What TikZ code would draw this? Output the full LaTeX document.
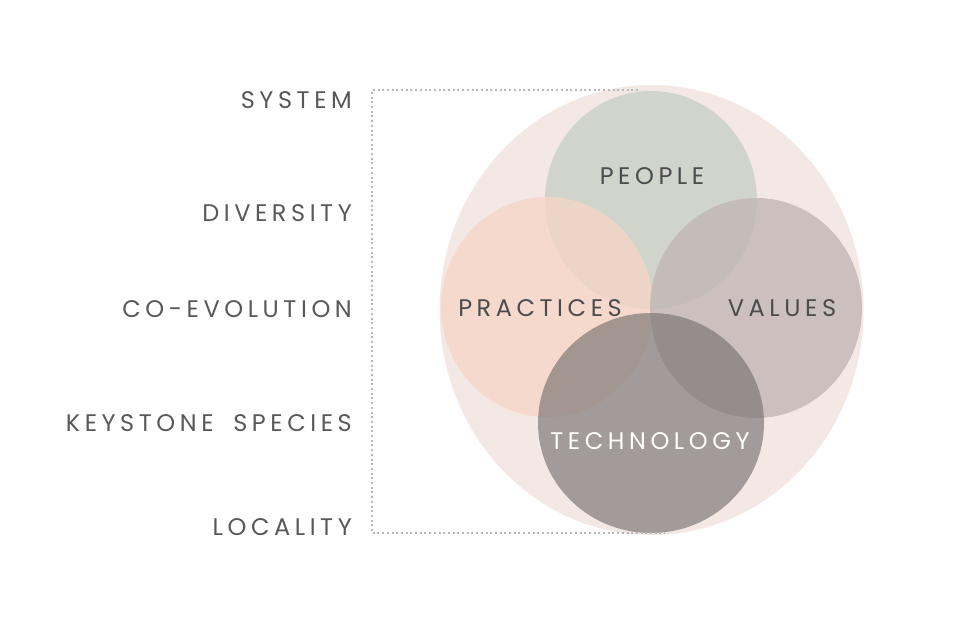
\documentclass[tikz,border=0pt]{standalone}
\usepackage{fontspec}
\setmainfont{Poppins}[LetterSpace=19, WordSpace=1.8]
\usepackage{tikz}
\usetikzlibrary{calc}
\definecolor{ringpink}{HTML}{F4E8E5}
\definecolor{peoplegreen}{HTML}{D1D4CB}
\definecolor{practicepink}{HTML}{F7D4C5}
\definecolor{valuegray}{HTML}{C1B7B4}
\definecolor{techgray}{HTML}{787371}
\definecolor{labelgray}{HTML}{585858}

\begin{document}
\begin{tikzpicture}[ x=1pt, y=-1pt,
      every node/.style={color=labelgray, inner sep=0pt},
      level/.style={anchor=east, font=\fontsize{24}{27}\selectfont},
      field/.style={font=\fontsize{24}{27}\selectfont, color=black!70},
      bracket line/.style={dash pattern=on 2pt off 2.7pt, line width=2pt, color=black!28}
      ]
      \useasboundingbox (0,0) rectangle (960,640);

      % system ring
      \fill[ringpink] (651.5,310) ellipse [x radius=212, y radius=225];

      % the four circles
      \fill[peoplegreen] (651,200) ellipse [x radius=106, y radius=109];
      \fill[practicepink, fill opacity=0.73] (547,307) ellipse [x radius=106, y radius=110];
      \fill[valuegray, fill opacity=0.8] (756,308) ellipse [x radius=106, y radius=110];
      \fill[techgray, fill opacity=0.65] (651,423) ellipse [x radius=113, y radius=110];

      \node[field] (People) at (652,176) {PEOPLE};
      \node[field] (Practices) at (540,308) {PRACTICES};
      \node[field] (Values) at (782,308) {VALUES};
      \node[field, color=white] (Technology) at (650,441) {TECHNOLOGY};

      % levels
      \node[level] (System) at (352,100) {SYSTEM};
      \node[level] (Diversity) at (352,213) {DIVERSITY};
      \node[level] (CoEvolution) at (352,309) {CO-EVOLUTION};
      \node[level] (Keystone) at (352,423) {KEYSTONE SPECIES};
      \node[level] (Locality) at (352,527) {LOCALITY};

      % bracket
      \coordinate (TopEnd) at (638,90);
      \coordinate (BotEnd) at (665,533);
      \coordinate (Corner) at (372,90);
      \draw[bracket line] (TopEnd) -- (Corner) |- (BotEnd);
    \end{tikzpicture}
\end{document}
